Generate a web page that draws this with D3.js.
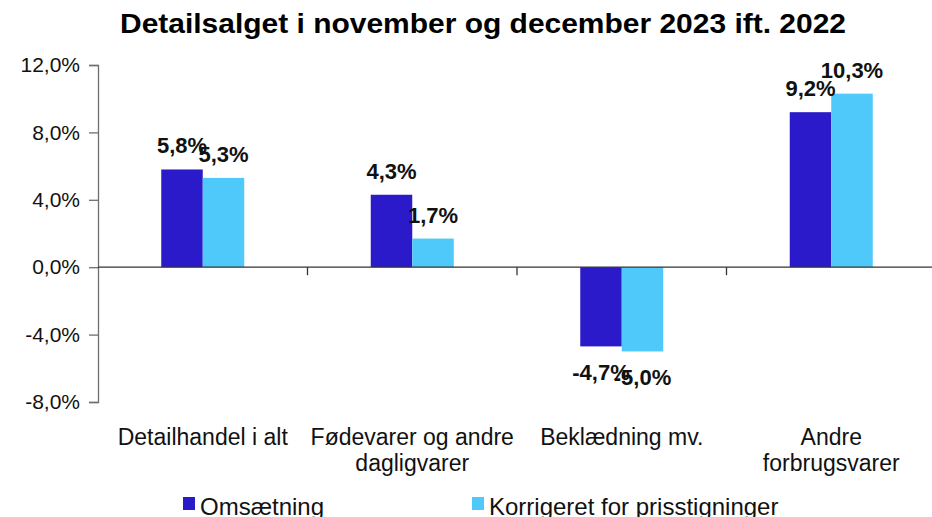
<!DOCTYPE html>
<html><head><meta charset="utf-8">
<script src="https://cdn.jsdelivr.net/npm/d3@7"></script>
<style>body{margin:0;background:#fff}svg{display:block;font-family:"Liberation Sans",Arial,sans-serif}</style>
</head><body>
<svg id="c" width="932" height="517"></svg>
<script>
const title = "Detailsalget i november og december 2023 ift. 2022";
const categories = [["Detailhandel i alt"], ["Fødevarer og andre", "dagligvarer"], ["Beklædning mv."], ["Andre", "forbrugsvarer"]];
const seriesNames = ["Omsætning", "Korrigeret for prisstigninger"];
const omsaetning = [5.8, 4.3, -4.7, 9.2];
const korrigeret = [5.3, 1.7, -5.0, 10.3];
const colors = ["#2B1ACA", "#4FC9FA"];
const yTicks = [-8, -4, 0, 4, 8, 12];

const svg = d3.select("#c");
const fmt = v => d3.format(".1f")(v).replace(".", ",").replace("\u2212", "-") + "%";

const x = d3.scaleBand().domain(d3.range(categories.length)).range([98, 936]).paddingInner(0).paddingOuter(0);
const y = d3.scaleLinear().domain([-8, 12]).range([402, 65]);
const xs = d3.scaleBand().domain([0, 1]).range([0, 83]);
const off = (x.bandwidth() - 83) / 2;

// title
svg.append("text").attr("x", 483).attr("y", 33).attr("text-anchor", "middle")
  .attr("font-size", 28).attr("font-weight", "bold").attr("fill", "#000")
  .attr("textLength", 726).attr("lengthAdjust", "spacingAndGlyphs").text(title);

// y axis
const ya = svg.append("g").attr("transform", "translate(98,0)")
  .call(d3.axisLeft(y).tickValues(yTicks).tickSize(9).tickPadding(9).tickFormat(fmt));
ya.select(".domain").attr("stroke", "#6e6e6e").attr("stroke-width", 1.3);
ya.selectAll(".tick line").attr("stroke", "#6e6e6e").attr("stroke-width", 1.3);
ya.selectAll(".tick text").attr("font-size", 21).attr("fill", "#111").attr("font-family", "Liberation Sans, Arial, sans-serif");

// bars
const series = [omsaetning, korrigeret];
series.forEach((vals, si) => {
  svg.append("g").selectAll("rect").data(vals).join("rect")
    .attr("x", (d, i) => x(i) + off + xs(si))
    .attr("width", xs.bandwidth())
    .attr("y", d => y(Math.max(0, d)))
    .attr("height", d => Math.abs(y(d) - y(0)))
    .attr("fill", colors[si]);
});

// x axis line + ticks
svg.append("line").attr("x1", 98).attr("x2", 932).attr("y1", y(0)).attr("y2", y(0))
  .attr("stroke", "#333").attr("stroke-width", 1.3);
svg.append("g").selectAll("line").data(d3.range(1, categories.length)).join("line")
  .attr("x1", i => x(i)).attr("x2", i => x(i)).attr("y1", y(0)).attr("y2", y(0) + 8)
  .attr("stroke", "#333").attr("stroke-width", 1.3);

// bar labels
series.forEach((vals, si) => {
  svg.append("g").selectAll("text").data(vals).join("text")
    .attr("x", (d, i) => x(i) + off + xs(si) + xs.bandwidth() / 2)
    .attr("y", d => d >= 0 ? y(d) - 16 : y(d) + 34)
    .attr("text-anchor", "middle").attr("font-size", 22).attr("font-weight", "bold")
    .attr("fill", "#111").text(d => fmt(d));
});

// category labels
const cl = svg.append("g");
categories.forEach((lines, i) => {
  lines.forEach((ln, li) => {
    cl.append("text").attr("x", x(i) + x.bandwidth() / 2).attr("y", 445 + li * 26)
      .attr("text-anchor", "middle").attr("font-size", 23).attr("fill", "#111").text(ln);
  });
});

// legend
const legX = [183, 472];
seriesNames.forEach((n, i) => {
  svg.append("rect").attr("x", legX[i]).attr("y", 497).attr("width", 12).attr("height", 13).attr("fill", colors[i]);
  svg.append("text").attr("x", legX[i] + 17).attr("y", 515).attr("font-size", 24).attr("fill", "#111").text(n);
});
</script>
</body></html>
